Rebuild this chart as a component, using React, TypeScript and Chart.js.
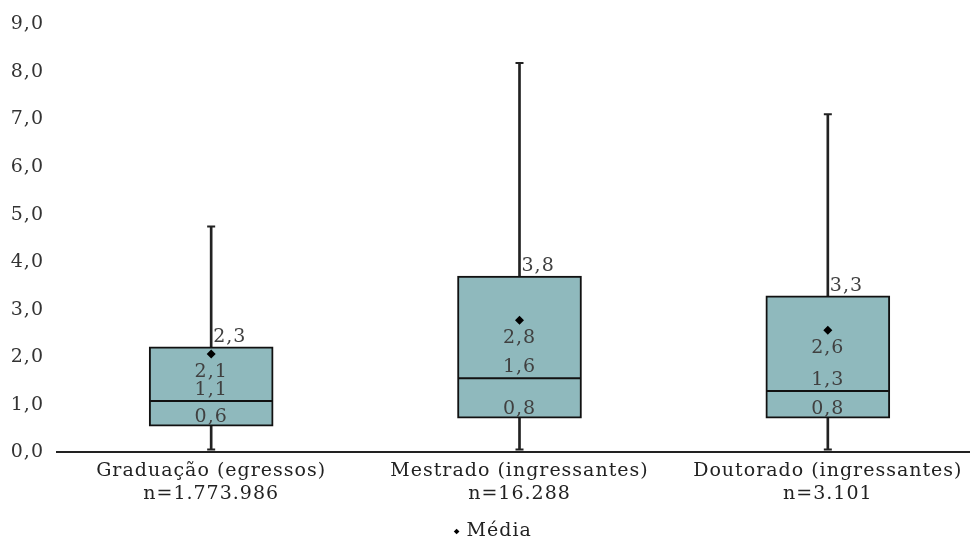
import React, { useEffect, useRef } from "react";
import { Chart, registerables } from "chart.js";

Chart.register(...registerables);

const categories = ["Graduação (egressos)", "Mestrado (ingressantes)", "Doutorado (ingressantes)"];
const sampleSizes = ["n=1.773.986", "n=16.288", "n=3.101"];

const minValues = [0.06, 0.06, 0.06];
const q1Values = [0.55, 0.72, 0.72];
const medianValues = [1.08, 1.56, 1.29];
const meanValues = [2.07, 2.78, 2.57];
const q3Values = [2.22, 3.71, 3.29];
const maxValues = [4.75, 8.19, 7.11];

const q3Labels = ["2,3", "3,8", "3,3"];
const meanLabels = ["2,1", "2,8", "2,6"];
const medianLabels = ["1,1", "1,6", "1,3"];
const q1Labels = ["0,6", "0,8", "0,8"];

const yTicks = [0, 1, 2, 3, 4, 5, 6, 7, 8, 9];

const FONT = "'DejaVu Serif', serif";
const FONT_SIZE = 19;
const LETTER_SPACING = "1px";

const spacingPlugin = {
  id: "spacing",
  beforeUpdate(chart: any) {
    chart.ctx.letterSpacing = LETTER_SPACING;
  },
  beforeLayout(chart: any) {
    chart.ctx.letterSpacing = LETTER_SPACING;
  },
  beforeDraw(chart: any) {
    chart.ctx.letterSpacing = LETTER_SPACING;
  },
};

const labelPlugin = {
  id: "boxLabels",
  afterDatasetsDraw(chart: any) {
    const { ctx, scales } = chart;
    const xs = scales.x;
    const ys = scales.y;
    ctx.save();
    ctx.font = `${FONT_SIZE}px ${FONT}`;
    ctx.fillStyle = "#404040";
    ctx.textBaseline = "alphabetic";
    categories.forEach((_, i) => {
      const x = xs.getPixelForValue(i);
      ctx.textAlign = "left";
      ctx.fillText(q3Labels[i], x + 2, ys.getPixelForValue(q3Values[i]) - 5);
      ctx.textAlign = "center";
      ctx.fillText(meanLabels[i], x, ys.getPixelForValue(meanValues[i]) + 23);
      ctx.fillText(medianLabels[i], x, ys.getPixelForValue(medianValues[i]) - 6);
      ctx.fillText(q1Labels[i], x, ys.getPixelForValue(q1Values[i]) - 4);
    });
    ctx.restore();
  },
};

export default function App() {
  const ref = useRef<HTMLCanvasElement | null>(null);

  useEffect(() => {
    if (!ref.current) return;
    Chart.defaults.font.family = FONT;
    Chart.defaults.font.size = FONT_SIZE;
    const labels = categories.map((c, i) => [c, sampleSizes[i]]);
    const chart = new Chart(ref.current, {
      type: "bar",
      data: {
        labels,
        datasets: [
          {
            type: "line",
            label: "Média",
            data: meanValues,
            showLine: false,
            pointStyle: "rectRot",
            pointRadius: 4.5,
            pointBackgroundColor: "#000",
            pointBorderColor: "#000",
            pointBorderWidth: 0,
            backgroundColor: "#000",
            borderColor: "#000",
            order: 1,
          } as any,
          {
            type: "line",
            label: "median",
            data: medianValues,
            showLine: false,
            pointStyle: "line",
            pointRadius: 61,
            pointBorderColor: "#111",
            pointBorderWidth: 2,
            order: 2,
          } as any,
          {
            type: "line",
            label: "maxcap",
            data: maxValues,
            showLine: false,
            pointStyle: "line",
            pointRadius: 4,
            pointBorderColor: "#222",
            pointBorderWidth: 2,
            order: 2,
          } as any,
          {
            type: "line",
            label: "mincap",
            data: minValues,
            showLine: false,
            pointStyle: "line",
            pointRadius: 4,
            pointBorderColor: "#222",
            pointBorderWidth: 2,
            order: 2,
          } as any,
          {
            type: "bar",
            label: "box",
            data: q1Values.map((q, i) => [q, q3Values[i]]),
            backgroundColor: "#8FB9BD",
            borderColor: "#111",
            borderWidth: 2,
            borderSkipped: false,
            barThickness: 124,
            grouped: false,
            order: 3,
          } as any,
          {
            type: "bar",
            label: "lowerWhisker",
            data: minValues.map((m, i) => [m, q1Values[i]]),
            backgroundColor: "#222",
            borderWidth: 0,
            barThickness: 2,
            grouped: false,
            order: 4,
          } as any,
          {
            type: "bar",
            label: "upperWhisker",
            data: q3Values.map((q, i) => [q, maxValues[i]]),
            backgroundColor: "#222",
            borderWidth: 0,
            barThickness: 2,
            grouped: false,
            order: 4,
          } as any,
        ],
      },
      options: {
        animation: false,
        responsive: false,
        layout: { autoPadding: false, padding: { top: 24, left: 6, right: 0, bottom: -8 } },
        plugins: {
          tooltip: { enabled: false },
          legend: {
            position: "bottom",
            labels: {
              usePointStyle: true,
              boxWidth: 1,
              boxHeight: 4,
              color: "#222",
              padding: 10,
              filter: (item: any) => item.text === "Média",
              font: { family: FONT, size: FONT_SIZE },
            },
          },
        },
        scales: {
          x: {
            grid: { display: false, drawTicks: false },
            border: { display: true, color: "#222", width: 2 },
            ticks: { color: "#222", padding: 7, maxRotation: 0, font: { family: FONT, size: FONT_SIZE } },
          },
          y: {
            min: 0,
            max: 9,
            afterBuildTicks: (scale: any) => {
              scale.ticks = yTicks.map((v) => ({ value: v }));
            },
            afterFit: (scale: any) => {
              scale.width = 51;
            },
            grid: { display: false, drawTicks: false },
            border: { display: false },
            ticks: {
              color: "#333",
              padding: 13,
              callback: (v: any) => Number(v).toFixed(1).replace(".", ","),
              font: { family: FONT, size: FONT_SIZE },
            },
          },
        },
      },
      plugins: [spacingPlugin, labelPlugin],
    });
    return () => chart.destroy();
  }, []);

  return (
    <div style={{ position: "absolute", left: 0, top: 0, width: 970, height: 543, overflow: "hidden", background: "#fff" }}>
      <canvas ref={ref} width={982} height={543} style={{ display: "block" }} />
    </div>
  );
}
